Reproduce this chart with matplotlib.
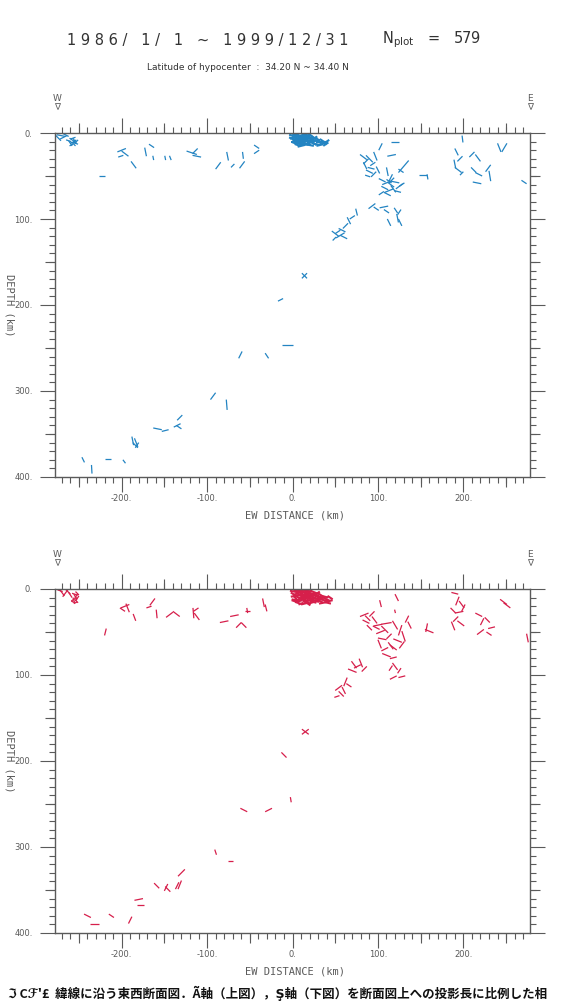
import matplotlib
matplotlib.use("Agg")
import matplotlib.pyplot as plt
from matplotlib.collections import LineCollection
from matplotlib.ticker import MultipleLocator, FixedLocator, NullFormatter

# each entry: (EW distance km, depth km, half-vector dx km, half-vector dz km)
# ---- P axis (upper panel) ----
p_west = [(-258, 8, 3, 2), (-256, 10, 3, -2), (-260, 12, 2, 3), (-254, 12, 3, 1),
          (-257, 6, 3, -1), (-259, 14, 2, -1), (-255, 9, 2, 3), (-262, 9, 3, 1),
          (-271, 3, 5, 1), (-268, 5, 4, -2), (-274, 6, 3, 3), (-266, 2, 4, 2),
          (-256, 13, 2, 2), (-253, 10, 2, -2), (-258, 11, 3, 0)]
p_shallow = [(-200, 20, 5, -2), (-196, 24, 4, 3), (-201, 27, 3, -1), (-186, 37, 3, 4),
             (-172, 22, 1, 5), (-165, 15, 3, 2), (-163, 29, 0.5, 2.5), (-149, 29, 0.5, 2.5),
             (-143, 29, 1, 2.5), (-118, 23, 6, 2), (-114, 21, 3, -3), (-112, 27, 5, 1),
             (-87, 38, 3, -4), (-76, 27, 1, 5), (-70, 38, 2, -2), (-59, 37, 3, -4),
             (-58, 26, 0.5, 4), (-42, 16, 3, 2), (-42, 22, 3, -2), (-223, 50, 4, 0)]
p_blob = [(0, 3, 4, 1), (3, 5, 5, -1), (6, 2, 4, 2), (9, 4, 5, 0), (12, 3, 4, -2), (15, 5, 5, 1),
          (18, 4, 4, 2), (21, 6, 4, -1), (1, 7, 5, 2), (4, 9, 4, -1), (7, 7, 5, 1), (10, 8, 4, 2),
          (13, 10, 5, -1), (16, 8, 4, 1), (19, 9, 5, 0), (22, 11, 4, 2), (2, 11, 4, 0), (5, 12, 5, 1),
          (8, 11, 4, -2), (11, 13, 4, 1), (14, 12, 5, 2), (17, 13, 4, -1), (20, 14, 5, 1),
          (0, 5, 3, -2), (4, 3, 4, 2), (8, 6, 3, -2), (12, 6, 5, 1), (16, 3, 4, 0), (20, 2, 3, 2),
          (6, 14, 3, 1), (10, 15, 4, -1), (24, 8, 4, 1), (27, 9, 5, -1), (30, 10, 4, 2),
          (33, 11, 5, 0), (36, 12, 4, 1), (39, 13, 3, -2), (28, 13, 4, 1), (32, 14, 4, -1),
          (35, 9, 3, 2), (38, 11, 4, 0), (25, 12, 3, 2), (40, 10, 3, -2),
          (2, 9, 3, 3), (6, 10, 4, -3), (10, 11, 3, 3), (14, 7, 4, -2), (18, 11, 3, 3),
          (22, 8, 3, -3), (3, 1, 4, 1), (11, 1, 3, 1), (17, 1, 4, -1), (7, 4, 3, 3),
          (15, 10, 3, -3), (19, 6, 4, 2), (23, 4, 3, 2), (26, 6, 3, -2), (29, 7, 3, 2)]
p_east = [(103, 16, 2, -4), (120, 10, 5, 0), (116, 26, 5, -1),
          (83, 28, 4, 3), (86, 33, 3, -3), (90, 30, 4, 4), (94, 36, 3, -2), (85, 38, 2, 4),
          (92, 41, 4, 1), (97, 27, 2, 5), (90, 45, 4, 2), (95, 48, 3, -3), (100, 43, 2, 4),
          (88, 50, 3, 1), (111, 45, 1, 5), (115, 52, 2, -4), (113, 56, 3, 2), (130, 39, 6, -7),
          (127, 44, 3, 2), (153, 49, 5, 0), (158, 51, 0.5, 3),
          (105, 55, 4, 2), (110, 58, 5, -2), (115, 60, 4, 3), (120, 57, 5, 1), (125, 62, 4, -3),
          (108, 64, 4, 2), (113, 67, 5, -2), (118, 65, 3, 4), (123, 68, 4, 1), (128, 60, 3, -2),
          (111, 71, 4, 2), (116, 55, 3, -3), (104, 70, 3, -2),
          (93, 85, 4, -3), (98, 88, 3, 2), (107, 86, 5, -1), (110, 91, 3, 2), (113, 104, 2, 4),
          (121, 90, 2, 3), (125, 92, 2, -3), (123, 99, 1, 5), (126, 104, 2, 4),
          (75, 92, 1, 4), (70, 98, 3, -2), (66, 102, 2, 4), (62, 108, 3, -3), (58, 113, 4, 2),
          (53, 115, 3, -2), (56, 119, 5, -3), (60, 121, 4, 2), (50, 117, 4, 3), (49, 123, 2, -2),
          (199, 7, 0.5, 4), (192, 22, 2, 4), (196, 30, 3, -3), (190, 36, 1, 5), (194, 43, 4, 3),
          (198, 47, 2, -2), (210, 25, 3, -3), (217, 29, 3, 4), (212, 43, 3, 3), (218, 48, 4, 2),
          (229, 41, 3, -4), (231, 50, 1, 6), (216, 58, 5, 1), (242, 17, 2, 5), (248, 17, 3, -5),
          (271, 57, 3, 2)]
p_slab = [(14, 166, 3, 3), (14, 166, 3, -3), (-14, 194, 3, -1.5), (-6, 246, 6, 0),
          (-61, 258, 2, -4), (-30, 259, 2, 3), (-93, 306, 3, -4), (-77, 316, 0.5, 6),
          (-132, 331, 3, -3), (-135, 340, 4, -2), (-133, 342, 3, 2), (-158, 344, 5, 1),
          (-149, 346, 4, -1), (-187, 358, 1, 5), (-183, 360, 2, 5), (-184, 363, 3, 3),
          (-182, 363, 2, -3), (-216, 379, 4, 0), (-245, 380, 1.5, 3), (-235, 391, 0.3, 5),
          (-197, 382, 1.5, 2)]

# ---- T axis (lower panel) ----
t_west = [(-254, 9, 2, 3), (-256, 12, 3, -2), (-253, 14, 2, 2), (-255, 6, 3, 1), (-252, 11, 2, -3),
          (-257, 15, 2, 1), (-270, 4, 3, 4), (-266, 5, 3, -4), (-263, 3, 3, 3), (-272, 2, 3, 1),
          (-260, 7, 2, 3), (-253, 8, 2, -2), (-256, 13, 1, 3), (-254, 16, 2, -1), (-252, 5, 2, 2)]
t_shallow = [(-219, 50, 1, -4), (-196, 20, 5, -2), (-193, 22, 2, 5), (-199, 24, 3, 2),
             (-185, 33, 1.5, 4), (-164, 15, 3, -4), (-168, 21, 3, -1), (-159, 29, 0.5, 5),
             (-144, 30, 4, -3), (-136, 29, 4, 3), (-116, 28, 0.5, 6), (-113, 24, 3, -2),
             (-112, 32, 3, 4), (-80, 38, 5, -1), (-68, 31, 5, -1), (-63, 42, 3, -3),
             (-57, 42, 3, 3), (-53, 25, 3, 0), (-53, 25, 0.5, 3), (-34, 16, 1, 5), (-31, 22, 1, 4)]
t_blob = [(2, 3, 5, 1), (6, 5, 5, -2), (10, 2, 4, 1), (14, 4, 5, 2), (18, 3, 5, -1), (22, 5, 4, 1),
          (26, 4, 5, 2), (3, 8, 5, -1), (7, 10, 4, 2), (11, 8, 5, 1), (15, 9, 4, -2), (19, 10, 5, 1),
          (23, 9, 4, 2), (27, 11, 5, -1), (4, 13, 5, 1), (8, 14, 4, -1), (12, 12, 5, 2),
          (16, 15, 4, 1), (20, 13, 5, -2), (24, 15, 4, 1), (28, 7, 4, 2), (1, 6, 3, 2),
          (9, 6, 4, -2), (13, 7, 5, 0), (17, 6, 4, 2), (21, 8, 3, -2), (25, 7, 4, 0), (6, 16, 3, 1),
          (14, 17, 4, -1), (31, 9, 5, 1), (34, 11, 4, -2), (37, 13, 5, 1), (40, 12, 4, 2),
          (43, 14, 4, -1), (32, 14, 4, 2), (36, 16, 5, -1), (41, 16, 4, 1), (44, 10, 3, 2),
          (30, 12, 3, -2), (38, 9, 4, 1), (18, 17, 3, 2), (10, 17, 3, -1),
          (4, 11, 3, 3), (8, 12, 4, -3), (12, 10, 3, 3), (16, 11, 4, -2), (20, 11, 3, 3),
          (24, 12, 3, -3), (5, 2, 4, 1), (13, 1, 3, 1), (19, 1, 4, -1), (9, 4, 3, 3),
          (17, 13, 3, -3), (21, 6, 4, 2), (25, 10, 3, 2), (29, 5, 3, -2), (33, 7, 3, 2),
          (2, 14, 3, 1), (22, 16, 3, -1), (27, 14, 4, 1)]
t_east = [(103, 17, 1, 4), (122, 10, 2, 4), (120, 26, 0.5, 2),
          (84, 30, 5, -2), (88, 34, 3, 3), (93, 29, 3, -3), (86, 38, 4, 2), (96, 36, 3, 4),
          (100, 42, 5, -1), (90, 45, 3, 3), (98, 45, 4, 2), (103, 50, 5, -2), (108, 47, 4, 4),
          (113, 55, 3, -3), (105, 58, 5, 1), (110, 40, 6, -1), (120, 42, 3, 5), (126, 48, 2, -6),
          (130, 55, 2, 6), (123, 60, 5, 2), (128, 65, 3, -4), (118, 68, 4, 3), (134, 35, 2, -4),
          (137, 42, 2, 4), (157, 45, 1, -5), (160, 49, 5, 2),
          (102, 64, 2, 5), (108, 70, 4, -2), (115, 66, 3, 4), (110, 77, 5, 2), (118, 80, 4, -1),
          (72, 88, 3, 4), (76, 90, 4, -2), (80, 86, 2, 5), (84, 93, 3, -3), (70, 95, 5, 2),
          (54, 115, 4, -3), (57, 122, 3, 3), (62, 108, 2, -5), (66, 112, 3, 2), (60, 118, 2, 4),
          (52, 125, 3, -1), (115, 92, 2, -3), (120, 90, 3, 4), (125, 95, 2, -3), (118, 103, 4, -2),
          (128, 102, 4, -1),
          (190, 5, 4, 1), (193, 14, 2, -5), (198, 18, 3, 4), (188, 25, 3, 3), (195, 27, 5, -1),
          (200, 22, 2, -4), (191, 35, 3, -3), (197, 40, 4, 3), (188, 43, 2, 5), (218, 30, 4, 2),
          (222, 38, 2, -4), (228, 36, 3, 3), (233, 45, 4, -1), (220, 50, 4, -3), (230, 52, 3, 2),
          (247, 15, 4, 3), (251, 19, 4, 3), (275, 57, 1, 5)]
t_slab = [(15, 166, 4, 3), (15, 166, 4, -3), (-10, 193, 3, 3), (-2, 245, 0.5, 3),
          (-57, 257, 4, 2), (-28, 257, 4, -2), (-90, 306, 1, 3), (-73, 316, 3, 0),
          (-130, 330, 4, -4), (-159, 345, 3, 3), (-148, 347, 2, -4), (-146, 349, 3, 3),
          (-135, 345, 2, -4), (-132, 344, 2, -5), (-180, 361, 5, -1), (-178, 367, 4, 0),
          (-190, 385, 2, -4), (-212, 380, 3, 2), (-240, 380, 4, 2), (-232, 390, 5, 0)]

x_ticks = [-200, -100, 0, 100, 200]
y_ticks = [0, 100, 200, 300, 400]
mid_x = [-250, -150, -50, 50, 150, 250]
mid_y = [50, 150, 250, 350]

BLUE = "#2384c2"
RED = "#d61f4b"
GREY = "#5a5a5a"

W, H = 562, 1006
fig = plt.figure(figsize=(W / 100, H / 100), dpi=100)


def segs(groups):
    out = []
    for g in groups:
        for x, z, dx, dz in g:
            out.append([(x - dx, z - dz), (x + dx, z + dz)])
    return out


def panel(top_px, groups, blob, color):
    ax = fig.add_axes([55 / W, 1 - (top_px + 344) / H, 475 / W, 344 / H])
    ax.add_collection(LineCollection(segs(groups), colors=color, linewidths=0.9))
    ax.add_collection(LineCollection(segs([blob]), colors=color, linewidths=1.5))
    ax.set_xlim(-278, 278)
    ax.set_ylim(400, 0)
    ax.set_xticks(x_ticks)
    ax.set_xticklabels([f"{v}." for v in x_ticks])
    ax.set_yticks(y_ticks)
    ax.set_yticklabels([f"{v}." for v in y_ticks])
    ax.xaxis.set_minor_locator(MultipleLocator(10))
    ax.yaxis.set_minor_locator(MultipleLocator(10))
    ax.tick_params(which="both", direction="out", top=True, right=True,
                   color=GREY, labelcolor=GREY, labelsize=6, width=0.8)
    ax.tick_params(which="major", length=11)
    ax.tick_params(axis="x", which="major", pad=1)
    ax.tick_params(axis="y", which="major", pad=5)
    ax.tick_params(which="minor", length=4)
    for s in ax.spines.values():
        s.set_color(GREY)
        s.set_linewidth(1.0)
    # intermediate 50 km ticks
    for side in ("top", "bottom"):
        sx = ax.secondary_xaxis(side)
        sx.xaxis.set_major_locator(FixedLocator(mid_x))
        sx.xaxis.set_major_formatter(NullFormatter())
        sx.tick_params(direction="out", length=7, color=GREY, width=0.8)
        sx.spines[side].set_visible(False)
    for side in ("left", "right"):
        sy = ax.secondary_yaxis(side)
        sy.yaxis.set_major_locator(FixedLocator(mid_y))
        sy.yaxis.set_major_formatter(NullFormatter())
        sy.tick_params(direction="out", length=7, color=GREY, width=0.8)
        sy.spines[side].set_visible(False)
    fig.text(295 / W, 1 - (top_px + 383) / H, "EW DISTANCE (km)", fontsize=7.5,
             color=GREY, ha="center", va="center", family="DejaVu Sans Mono")
    fig.text(9 / W, 1 - (top_px + 172) / H, "DEPTH (km)", fontsize=7.5, color=GREY,
             rotation=-90, ha="center", va="center", family="DejaVu Sans Mono")
    fig.text(57 / W, 1 - (top_px - 30) / H, "W\n\u2207", ha="center", va="center",
             fontsize=6.5, color=GREY, linespacing=1.0)
    fig.text(530 / W, 1 - (top_px - 30) / H, "E\n\u2207", ha="center", va="center",
             fontsize=6.5, color=GREY, linespacing=1.0)
    return ax


panel(133, [p_west, p_shallow, p_east, p_slab], p_blob, BLUE)
panel(589, [t_west, t_shallow, t_east, t_slab], t_blob, RED)

fig.text(67 / W, 1 - 40 / H, "1 9 8 6 /   1 /   1   ~   1 9 9 9 / 1 2 / 3 1",
         fontsize=10.5, color="#333", va="center", ha="left")
fig.text(382 / W, 1 - 40 / H, r"N$_{\mathrm{plot}}$   =   579",
         fontsize=10.5, color="#333", va="center", ha="left")
fig.text(147 / W, 1 - 68 / H, "Latitude of hypocenter  :  34.20 N ~ 34.40 N",
         fontsize=6.5, color="#333", va="center", ha="left")

fig.text(8 / W, 1 - 993 / H,
         "ℑ Cℱ'£  緯線に沿う東西断面図．Ã軸（上図），Ş軸（下図）を断面図上への投影長に比例した相",
         fontsize=9, fontweight="bold", color="#111", va="center", ha="left",
         family=["Noto Sans CJK JP", "DejaVu Sans"])

fig.savefig("out.png", dpi=100)
